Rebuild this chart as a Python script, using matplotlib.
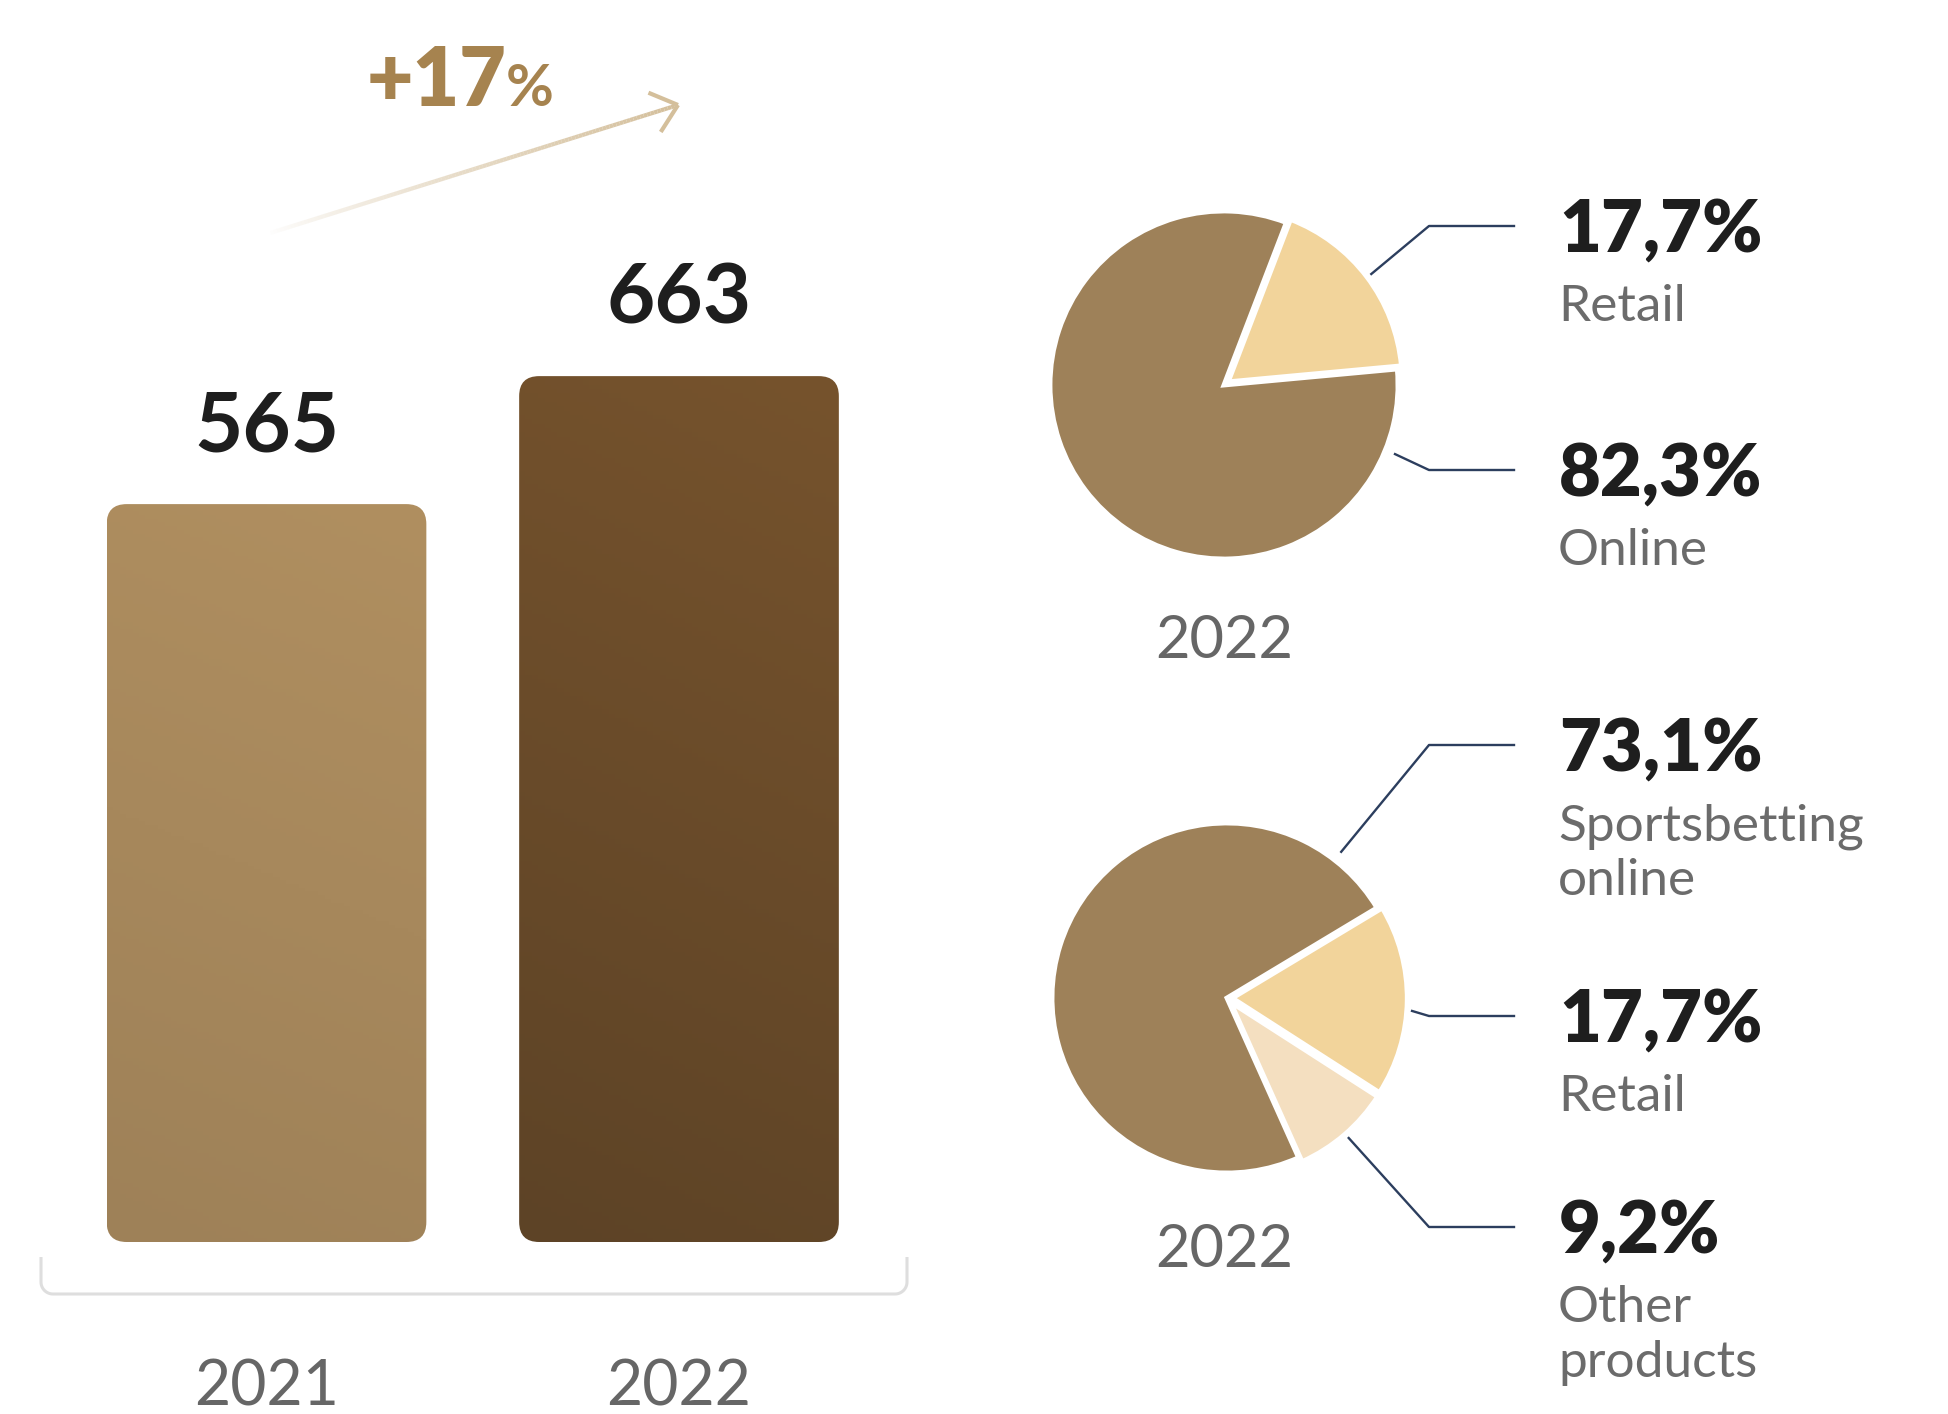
import numpy as np
import matplotlib
matplotlib.use("Agg")
from matplotlib import pyplot as plt
from matplotlib.patches import FancyBboxPatch
from matplotlib.collections import LineCollection
from matplotlib.colors import LinearSegmentedColormap, to_rgba

# revenue by year
years = ["2021", "2022"]
revenue = [565, 663]

# 2022 split by channel
channel_labels = ["Retail", "Online"]
channel_share = [17.7, 82.3]

# 2022 split by product
product_labels = ["Retail", "Other\nproducts", "Sportsbetting\nonline"]
product_share = [17.7, 9.2, 73.1]
pie_year = "2022"

W, H = 1948, 1414
plt.rcParams["font.family"] = ["Lato", "DejaVu Sans"]

TAN = "#9e8159"
SAND = "#f2d49b"
CREAM = "#f4dfc0"
NAVY = "#2c3e5e"
INK = "#1e1e1e"
GREY = "#6b6b6b"
bar_grads = [("#9e8158", "#b08f60"), ("#5d4326", "#76532d")]

fig = plt.figure(figsize=(W / 100, H / 100), dpi=100)

# pixel-space overlay for labels and connectors
ov = fig.add_axes([0, 0, 1, 1])
ov.set_xlim(0, W)
ov.set_ylim(H, 0)
ov.axis("off")

# ---- bars ----
px_x, px_v, base = 412.5, 1.306, 1242
ax = fig.add_axes([0, 0, 960 / W, 1])
ax.axis("off")
xlim = (-266.5 / px_x, (960 - 266.5) / px_x)
ylim = (-(H - base) / px_v, base / px_v)
x = np.arange(len(years))
bars = ax.bar(x, revenue, width=0.775, color="none")

r_px = 20
for rect, (c_bot, c_top) in zip(bars, bar_grads):
    x0, w, h = rect.get_x(), rect.get_width(), rect.get_height()
    box = FancyBboxPatch((x0, 0), w, h,
                         boxstyle=f"round,pad=0,rounding_size={r_px / px_x}",
                         mutation_aspect=px_x / px_v, fc="none", ec="none")
    ax.add_patch(box)
    v = np.linspace(0, 1, 200)[:, None]
    u = np.linspace(0, 1, 50)[None, :]
    grad = 0.85 * v + 0.15 * u
    cmap = LinearSegmentedColormap.from_list("g", [c_bot, c_top])
    im = ax.imshow(grad, extent=(x0, x0 + w, 0, h), origin="lower",
                   cmap=cmap, aspect="auto", vmin=0, vmax=1)
    im.set_clip_path(box)

for xi, val in zip(x, revenue):
    ax.annotate(str(val), (xi, val), xytext=(0, 38), textcoords="offset points",
                ha="center", va="baseline", fontsize=60, fontweight="bold", color=INK)
    ax.text(xi, -(1406 - base) / px_v, years[int(xi)], ha="center", va="baseline",
            fontsize=45, color="#666666")
ax.set_xlim(*xlim)
ax.set_ylim(*ylim)

# bracket under the bars
def bracket(x0, x1, y0, y1, r=12):
    t = np.linspace(np.pi, np.pi / 2, 20)
    left = np.c_[x0 + r + r * np.cos(t), y1 - r + r * np.sin(t)]
    t2 = np.linspace(np.pi / 2, 0, 20)
    right = np.c_[x1 - r + r * np.cos(t2), y1 - r + r * np.sin(t2)]
    pts = np.vstack([[x0, y0], left, right, [x1, y0]])
    ov.plot(pts[:, 0], pts[:, 1], color="#dedede", lw=2.2, solid_capstyle="butt")

bracket(41, 907, 1257, 1294)

# growth arrow with fading tail
growth = round((revenue[1] / revenue[0] - 1) * 100)
p0, p1 = np.array([267.0, 234.0]), np.array([678.0, 105.0])
n = 120
pts = p0 + (p1 - p0) * np.linspace(0, 1, n + 1)[:, None]
segs = np.stack([pts[:-1], pts[1:]], axis=1)
base_c = np.array(to_rgba("#d4bf9b"))
cols = np.tile(base_c, (n, 1))
cols[:, 3] = np.linspace(0, 1, n) ** 0.8
ov.add_collection(LineCollection(segs, colors=cols, linewidths=3, capstyle="butt"))
d = (p0 - p1) / np.linalg.norm(p0 - p1)
for ang in (40, -40):
    a = np.radians(ang)
    rot = np.array([[np.cos(a), -np.sin(a)], [np.sin(a), np.cos(a)]])
    tip = p1 + rot @ d * 32
    ov.plot([p1[0], tip[0]], [p1[1], tip[1]], color="#d4bf9b", lw=3, solid_capstyle="butt")
ov.text(506, 106, f"+{growth}", ha="right", va="baseline", fontsize=58,
        fontweight="heavy", color="#a6834f")
ov.text(506, 106, "%", ha="left", va="baseline", fontsize=42,
        fontweight="bold", color="#a6834f")

# ---- pies ----
def draw_pie(cx, cy, R, shares, colors, start, anchors, line_ys, labels, explode):
    pad = 1.35
    s = 2 * R * pad
    pa = fig.add_axes([(cx - s / 2) / W, (H - cy - s / 2) / H, s / W, s / H])
    pa.pie(shares, colors=colors, startangle=start, counterclock=False,
           explode=explode, wedgeprops=dict(edgecolor="white", linewidth=3.5))
    pa.set_xlim(-pad, pad)
    pa.set_ylim(-pad, pad)
    for ang, ly, share, lab in zip(anchors, line_ys, shares, labels):
        a = np.radians(ang)
        sx, sy = cx + 1.06 * R * np.cos(a), cy - 1.06 * R * np.sin(a)
        ov.plot([sx, 1429, 1514], [sy, ly, ly], color=NAVY, lw=1.7)
        txt = f"{share:.1f}".replace(".", ",") + "%"
        ov.text(1559, ly + 26, txt, ha="left", va="baseline", fontsize=52,
                fontweight="heavy", color=INK)
        for k, line in enumerate(lab.split("\n")):
            ov.text(1558, ly + 95 + 55 * k, line, ha="left", va="baseline",
                    fontsize=37, color=GREY)

draw_pie(1224, 385, 174, channel_share, [SAND, TAN], 69,
         [37, -22], [226, 470], channel_labels, [0.03, 0])
ov.text(1224, 658, pie_year, ha="center", va="baseline", fontsize=43, color="#666666")

draw_pie(1227, 998, 175, product_share, [SAND, CREAM, TAN], 31,
         [-4, -49, 52], [1016, 1227, 745], product_labels, [0.03, 0.03, 0])
ov.text(1224, 1267, pie_year, ha="center", va="baseline", fontsize=43, color="#666666")

fig.savefig("out.png", dpi=100, facecolor="white")
